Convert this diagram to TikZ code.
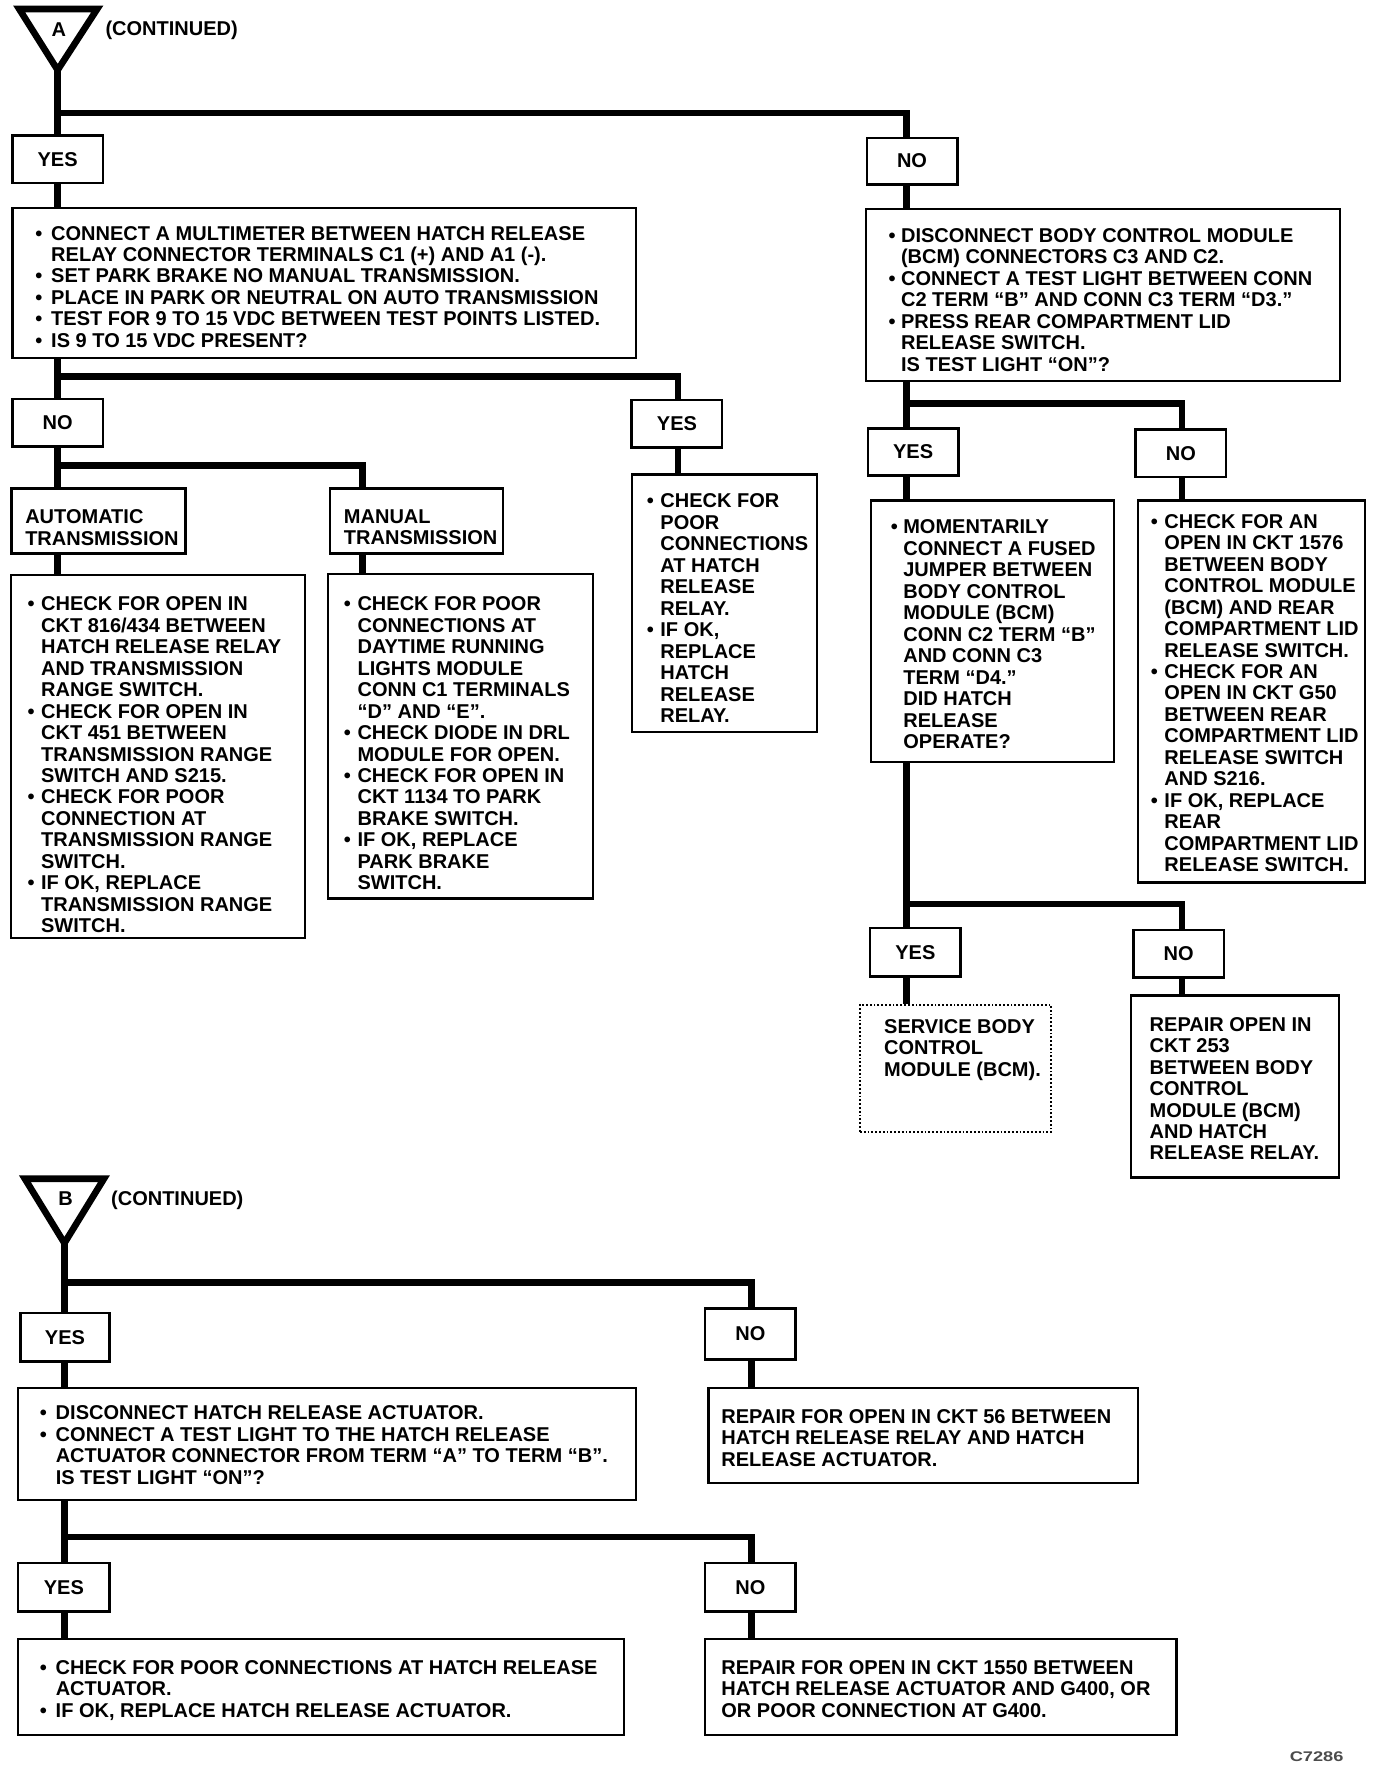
\documentclass[tikz,border=0pt]{standalone}
\usepackage{fontspec}
\setmainfont{Liberation Sans}
\usetikzlibrary{fit}
\newcommand\bA{\makebox[7.9pt][l]{\textbullet}}
\newcommand\iA{\hspace*{7.9pt}}
\newcommand\bB{\makebox[6.8pt][l]{\textbullet}}
\newcommand\iB{\hspace*{6.8pt}}
\newcommand\bC{\makebox[6.2pt][l]{\textbullet}}
\newcommand\iC{\hspace*{6.2pt}}
\begin{document}
\begin{tikzpicture}[x=0.5648pt,y=-0.5648pt,
  every node/.style={font=\bfseries\fontsize{10}{10.73}\selectfont},
  conn/.style={line width=3.3pt, line join=miter},
  lbl/.style={draw, line width=1.3pt, inner sep=0},
  tbox/.style={draw, line width=1.15pt, inner sep=0},
  dbox/.style={draw, line width=0.9pt, densely dotted, inner sep=0},
  txt/.style={anchor=north west, inner sep=0, align=left}]
\fill[white] (0,0) rectangle (1218,1568);
\useasboundingbox (0,0) rectangle (1218,1568);

% column coordinates
\coordinate (cA) at (51,0);
\coordinate (cM) at (321,0);
\coordinate (cY) at (600,0);
\coordinate (cR) at (802,0);
\coordinate (cN) at (1046,0);
\coordinate (cB) at (57,0);
\coordinate (cBn) at (665,0);

% ---------- Part A ----------
\draw[conn] (17,8) -- (86,8) -- (51,62) -- cycle;
\coordinate (apexA) at (51,62);
\node (triAl) at (52,26) {A};
\node[anchor=west, inner sep=0] (contA) at (93,27) {(CONTINUED)};

\node[lbl, fit={(11,120)(91,162)}, label=center:YES] (yes1) {};
\node[lbl, fit={(767,122)(847,163)}, label=center:NO] (no1) {};
\node[tbox, fit={(11,184)(563,317)}] (b1) {};
\node[txt] (b1t) at (31,199.7) {\bA CONNECT A MULTIMETER BETWEEN HATCH RELEASE\\
\iA RELAY CONNECTOR TERMINALS C1 (+) AND A1 (-).\\
\bA SET PARK BRAKE NO MANUAL TRANSMISSION.\\
\bA PLACE IN PARK OR NEUTRAL ON AUTO TRANSMISSION\\
\bA TEST FOR 9 TO 15 VDC BETWEEN TEST POINTS LISTED.\\
\bA IS 9 TO 15 VDC PRESENT?};

\node[lbl, fit={(11,353)(91,395)}, label=center:NO] (no2) {};
\node[lbl, fit={(559,354)(639,396)}, label=center:YES] (yes3) {};
\node[lbl, fit={(10,432)(164,490)}] (auto) {};
\node[txt] (autot) at (22,450.7) {AUTOMATIC\\TRANSMISSION};
\node[lbl, fit={(292,432)(445,490)}] (man) {};
\node[txt] (mant) at (304,450.7) {MANUAL\\TRANSMISSION};

\node[tbox, fit={(10,509)(270,830)}] (autoC) {};
\node[txt] (autoCt) at (24,527.7) {\bB CHECK FOR OPEN IN\\
\iB CKT 816/434 BETWEEN\\
\iB HATCH RELEASE RELAY\\
\iB AND TRANSMISSION\\
\iB RANGE SWITCH.\\
\bB CHECK FOR OPEN IN\\
\iB CKT 451 BETWEEN\\
\iB TRANSMISSION RANGE\\
\iB SWITCH AND S215.\\
\bB CHECK FOR POOR\\
\iB CONNECTION AT\\
\iB TRANSMISSION RANGE\\
\iB SWITCH.\\
\bB IF OK, REPLACE\\
\iB TRANSMISSION RANGE\\
\iB SWITCH.};

\node[tbox, fit={(290,508)(525,795)}] (manC) {};
\node[txt] (manCt) at (304,527.7) {\bB CHECK FOR POOR\\
\iB CONNECTIONS AT\\
\iB DAYTIME RUNNING\\
\iB LIGHTS MODULE\\
\iB CONN C1 TERMINALS\\
\iB “D” AND “E”.\\
\bB CHECK DIODE IN DRL\\
\iB MODULE FOR OPEN.\\
\bB CHECK FOR OPEN IN\\
\iB CKT 1134 TO PARK\\
\iB BRAKE SWITCH.\\
\bB IF OK, REPLACE\\
\iB PARK BRAKE\\
\iB SWITCH.};

\node[tbox, fit={(559,420)(723,648)}] (yesC) {};
\node[txt] (yesCt) at (572,436.7) {\bB CHECK FOR\\
\iB POOR\\
\iB CONNECTIONS\\
\iB AT HATCH\\
\iB RELEASE\\
\iB RELAY.\\
\bB IF OK,\\
\iB REPLACE\\
\iB HATCH\\
\iB RELEASE\\
\iB RELAY.};

\node[tbox, fit={(766,185)(1186,337)}] (bcm) {};
\node[txt] (bcmt) at (786,201.7) {\bC DISCONNECT BODY CONTROL MODULE\\
\iC (BCM) CONNECTORS C3 AND C2.\\
\bC CONNECT A TEST LIGHT BETWEEN CONN\\
\iC C2 TERM “B” AND CONN C3 TERM “D3.”\\
\bC PRESS REAR COMPARTMENT LID\\
\iC RELEASE SWITCH.\\
\iC IS TEST LIGHT “ON”?};

\node[lbl, fit={(768,379)(848,421)}, label=center:YES] (yes4) {};
\node[lbl, fit={(1005,380)(1085,422)}, label=center:NO] (no4) {};

\node[tbox, fit={(771,443)(986,674)}] (mom) {};
\node[txt] (momt) at (788,459.7) {\bC MOMENTARILY\\
\iC CONNECT A FUSED\\
\iC JUMPER BETWEEN\\
\iC BODY CONTROL\\
\iC MODULE (BCM)\\
\iC CONN C2 TERM “B”\\
\iC AND CONN C3\\
\iC TERM “D4.”\\
\iC DID HATCH\\
\iC RELEASE\\
\iC OPERATE?};

\node[tbox, fit={(1007,443)(1208,781)}] (noC) {};
\node[txt] (noCt) at (1018,454.7) {\bB CHECK FOR AN\\
\iB OPEN IN CKT 1576\\
\iB BETWEEN BODY\\
\iB CONTROL MODULE\\
\iB (BCM) AND REAR\\
\iB COMPARTMENT LID\\
\iB RELEASE SWITCH.\\
\bB CHECK FOR AN\\
\iB OPEN IN CKT G50\\
\iB BETWEEN REAR\\
\iB COMPARTMENT LID\\
\iB RELEASE SWITCH\\
\iB AND S216.\\
\bB IF OK, REPLACE\\
\iB REAR\\
\iB COMPARTMENT LID\\
\iB RELEASE SWITCH.};

\node[lbl, fit={(770,821)(850,864)}, label=center:YES] (yes5) {};
\node[lbl, fit={(1003,823)(1083,865)}, label=center:NO] (no5) {};
\node[dbox, fit={(761,889)(930,1002)}] (svc) {};
\node[txt] (svct) at (782,901.7) {SERVICE BODY\\CONTROL\\MODULE (BCM).};
\node[tbox, fit={(1001,881)(1185,1042)}] (rep) {};
\node[txt] (rept) at (1017,899.7) {REPAIR OPEN IN\\CKT 253\\BETWEEN BODY\\CONTROL\\MODULE (BCM)\\AND HATCH\\RELEASE RELAY.};

% connectors A
\coordinate (jA) at (51,100);
\draw[conn] (apexA) -- (cA |- yes1.north);
\draw[conn] (jA) -| (cR |- no1.north);
\draw[conn] (cA |- yes1.south) -- (cA |- b1.north);
\draw[conn] (cA |- b1.south) -- (cA |- no2.north);
\coordinate (j2) at (51,333);
\draw[conn] (j2) -| (cY |- yes3.north);
\draw[conn] (cA |- no2.south) -- (cA |- auto.north);
\coordinate (j3) at (51,412);
\draw[conn] (j3) -| (cM |- man.north);
\draw[conn] (cA |- auto.south) -- (cA |- autoC.north);
\draw[conn] (cM |- man.south) -- (cM |- manC.north);
\draw[conn] (cY |- yes3.south) -- (cY |- yesC.north);
\draw[conn] (cR |- no1.south) -- (cR |- bcm.north);
\draw[conn] (cR |- bcm.south) -- (cR |- yes4.north);
\coordinate (j4) at (802,357);
\draw[conn] (j4) -| (cN |- no4.north);
\draw[conn] (cR |- yes4.south) -- (cR |- mom.north);
\draw[conn] (cN |- no4.south) -- (cN |- noC.north);
\draw[conn] (cR |- mom.south) -- (cR |- yes5.north);
\coordinate (j5) at (802,800);
\draw[conn] (j5) -| (cN |- no5.north);
\draw[conn] (cR |- yes5.south) -- (cR |- svc.north);
\draw[conn] (cN |- no5.south) -- (cN |- rep.north);

% ---------- Part B ----------
\draw[conn] (22,1043) -- (92,1043) -- (57,1100) -- cycle;
\coordinate (apexB) at (57,1100);
\node (triBl) at (58,1061) {B};
\node[anchor=west, inner sep=0] (contB) at (98,1062) {(CONTINUED)};

\node[lbl, fit={(18,1162)(97,1205)}, label=center:YES] (yes6) {};
\node[lbl, fit={(624,1158)(704,1203)}, label=center:NO] (no6) {};
\node[tbox, fit={(16,1228)(563,1327)}] (disc) {};
\node[txt] (disct) at (35,1243.7) {\bA DISCONNECT HATCH RELEASE ACTUATOR.\\
\bA CONNECT A TEST LIGHT TO THE HATCH RELEASE\\
\iA ACTUATOR CONNECTOR FROM TERM “A” TO TERM “B”.\\
\iA IS TEST LIGHT “ON”?};
\node[tbox, fit={(627,1228)(1007,1312)}] (rep56) {};
\node[txt] (rep56t) at (638,1246.7) {REPAIR FOR OPEN IN CKT 56 BETWEEN\\HATCH RELEASE RELAY AND HATCH\\RELEASE ACTUATOR.};

\node[lbl, fit={(16,1383)(97,1426)}, label=center:YES] (yes7) {};
\node[lbl, fit={(624,1383)(704,1426)}, label=center:NO] (no7) {};
\node[tbox, fit={(16,1450)(552,1535)}] (chk) {};
\node[txt] (chkt) at (35,1468.7) {\bA CHECK FOR POOR CONNECTIONS AT HATCH RELEASE\\
\iA ACTUATOR.\\
\bA IF OK, REPLACE HATCH RELEASE ACTUATOR.};
\node[tbox, fit={(624,1450)(1041,1535)}] (rep1550) {};
\node[txt] (rep1550t) at (638,1468.7) {REPAIR FOR OPEN IN CKT 1550 BETWEEN\\HATCH RELEASE ACTUATOR AND G400, OR\\OR POOR CONNECTION AT G400.};

\coordinate (j6) at (57,1135);
\draw[conn] (apexB) -- (cB |- yes6.north);
\draw[conn] (j6) -| (cBn |- no6.north);
\draw[conn] (cB |- yes6.south) -- (cB |- disc.north);
\draw[conn] (cBn |- no6.south) -- (cBn |- rep56.north);
\draw[conn] (cB |- disc.south) -- (cB |- yes7.north);
\coordinate (j7) at (57,1360);
\draw[conn] (j7) -| (cBn |- no7.north);
\draw[conn] (cB |- yes7.south) -- (cB |- chk.north);
\draw[conn] (cBn |- no7.south) -- (cBn |- rep1550.north);

\node[font=\bfseries\fontsize{7}{8}\selectfont, text=black!70, xscale=1.3] (code) at (1165,1554) {C7286};
\end{tikzpicture}
\end{document}
